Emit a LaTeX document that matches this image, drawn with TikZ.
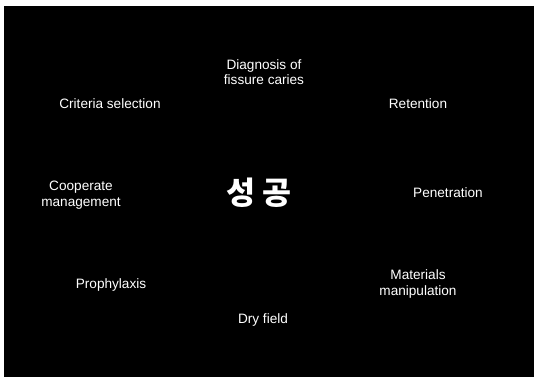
\documentclass[tikz,border=0pt]{standalone}
\usepackage{fontspec}
\setmainfont{Liberation Sans}
\newfontfamily\kofont{Noto Sans CJK KR}
\begin{document}
\begin{tikzpicture}[x=1bp,y=-1bp,
  lbl/.style={text=white,font=\fontsize{13.6bp}{15.5bp}\selectfont,align=center,inner sep=0pt},
  big/.style={text=white,font=\kofont\bfseries\fontsize{31.5bp}{34bp}\selectfont,inner sep=0pt}]
\useasboundingbox (0,0) rectangle (534,379);
\fill[white] (0,0) rectangle (534,379);
\fill[black] (4,6) rectangle (534,377);
\node[lbl] (diag) at (264,72) {Diagnosis of\\fissure caries};
\node[lbl] (crit) at (110,104) {Criteria selection};
\node[lbl] (ret) at (418,104) {Retention};
\node[lbl] (coop) at (81,195) {Cooperate\\management};
\node[big] (center) at (259,193) {성 공};
\node[lbl] (pen) at (448,193) {Penetration};
\node[lbl] (proph) at (111,285) {Prophylaxis};
\node[lbl] (dry) at (263,320) {Dry field};
\node[lbl] (mat) at (418,284) {Materials\\manipulation};
\end{tikzpicture}
\end{document}
